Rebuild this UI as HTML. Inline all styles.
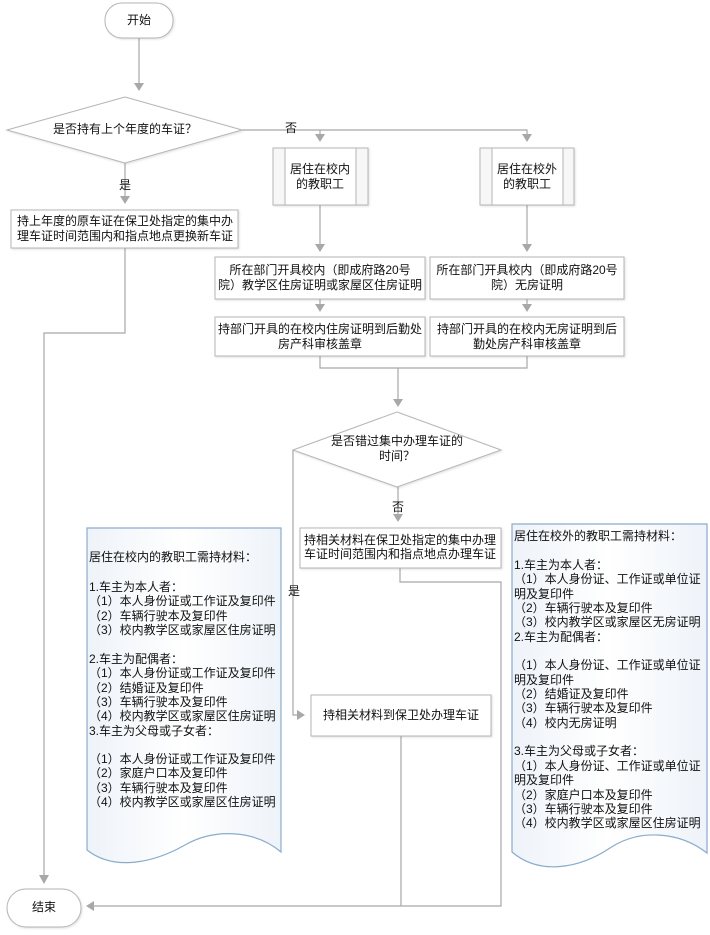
<!DOCTYPE html>
<html><head><meta charset="utf-8"><style>
body{margin:0;background:#fff}
svg{display:block}
text{font-family:"Liberation Sans","Noto Sans CJK SC",sans-serif;font-size:12px;fill:#111}
.b{fill:#fff;stroke:#b5b5b5;stroke-width:1}
.l{fill:none;stroke:#a8a8a8;stroke-width:1.2}
.a{fill:#a8a8a8}
.d{fill:url(#g);stroke:#8aaccc;stroke-width:1.2}
</style></head><body>
<svg width="710" height="935" viewBox="0 0 710 935" xmlns="http://www.w3.org/2000/svg">
<defs>
<linearGradient id="g" x1="0" y1="0" x2="1" y2="0"><stop offset="0" stop-color="#eef3f9"/><stop offset="0.5" stop-color="#ffffff"/><stop offset="1" stop-color="#eef3f9"/></linearGradient>
<filter id="s" x="-5%" y="-5%" width="110%" height="120%"><feDropShadow dx="1" dy="1" stdDeviation="1" flood-color="#000" flood-opacity="0.12"/></filter>
</defs>

<!-- connectors -->
<path class="l" d="M139 38 V84"/><polygon class="a" points="134,83 144,83 139,91"/>
<path class="l" d="M125 163 V197"/><polygon class="a" points="120,196 130,196 125,204"/>
<path class="l" d="M242 130 H527 V135 M320 130 V135"/>
<polygon class="a" points="315,134 325,134 320,142"/><polygon class="a" points="522,134 532,134 527,142"/>
<path class="l" d="M320 205 V245"/><polygon class="a" points="315,244 325,244 320,252"/>
<path class="l" d="M527 205 V245"/><polygon class="a" points="522,244 532,244 527,252"/>
<path class="l" d="M320 299 V305"/><polygon class="a" points="315,304 325,304 320,312"/>
<path class="l" d="M527 299 V305"/><polygon class="a" points="522,304 532,304 527,312"/>
<path class="l" d="M320 356 V368 H527 V356 M398 368 V400"/><polygon class="a" points="393,399 403,399 398,407"/>
<path class="l" d="M398 487 V515"/><polygon class="a" points="393,514 403,514 398,522"/>
<path class="l" d="M125 248 V333 H44 V876"/><polygon class="a" points="39,875 49,875 44,884"/>
<path class="l" d="M293 450 V715 H298"/><polygon class="a" points="297,710 297,720 305,715"/>
<path class="l" d="M400 568 V582 H501 V906 H94"/><polygon class="a" points="94,901 94,911 86,906"/>
<path class="l" d="M401 736 V906"/>

<!-- start/end -->
<rect class="b" x="105" y="3" width="68" height="35" rx="17" filter="url(#s)"/>
<text x="139" y="21" text-anchor="middle" dominant-baseline="middle">开始</text>
<rect class="b" x="7" y="889" width="74" height="38" rx="19" filter="url(#s)"/>
<text x="44" y="908" text-anchor="middle" dominant-baseline="middle">结束</text>

<!-- diamond 1 -->
<polygon class="b" points="7,130 125,97 242,130 125,163" filter="url(#s)"/>
<text x="125" y="130" text-anchor="middle" dominant-baseline="middle">是否持有上个年度的车证？</text>
<text x="291" y="129" text-anchor="middle" dominant-baseline="middle">否</text>
<text x="125" y="186" text-anchor="middle" dominant-baseline="middle">是</text>

<!-- box1 -->
<rect class="b" x="11" y="210" width="227" height="38" filter="url(#s)"/>
<text x="125" y="222" text-anchor="middle" dominant-baseline="middle">持上年度的原车证在保卫处指定的集中办</text>
<text x="125" y="237" text-anchor="middle" dominant-baseline="middle">理车证时间范围内和指点地点更换新车证</text>

<!-- subprocess boxes -->
<rect class="b" x="273" y="148" width="95" height="57" filter="url(#s)" style="fill:#f7f7f7"/>
<rect x="285" y="148" width="71" height="57" fill="#fff" stroke="#b5b5b5"/>
<text x="320" y="170" text-anchor="middle" dominant-baseline="middle">居住在校内</text>
<text x="320" y="185" text-anchor="middle" dominant-baseline="middle">的教职工</text>
<rect class="b" x="480" y="148" width="94" height="57" filter="url(#s)" style="fill:#f7f7f7"/>
<rect x="492" y="148" width="71" height="57" fill="#fff" stroke="#b5b5b5"/>
<text x="527" y="170" text-anchor="middle" dominant-baseline="middle">居住在校外</text>
<text x="527" y="185" text-anchor="middle" dominant-baseline="middle">的教职工</text>

<!-- boxes A-D -->
<rect class="b" x="215" y="257" width="210" height="42" filter="url(#s)"/>
<text x="320" y="271" text-anchor="middle" dominant-baseline="middle">所在部门开具校内（即成府路20号</text>
<text x="320" y="286" text-anchor="middle" dominant-baseline="middle">院）教学区住房证明或家屋区住房证明</text>
<rect class="b" x="430" y="257" width="194" height="42" filter="url(#s)"/>
<text x="527" y="271" text-anchor="middle" dominant-baseline="middle">所在部门开具校内（即成府路20号</text>
<text x="527" y="286" text-anchor="middle" dominant-baseline="middle">院）无房证明</text>
<rect class="b" x="215" y="317" width="210" height="39" filter="url(#s)"/>
<text x="320" y="330" text-anchor="middle" dominant-baseline="middle">持部门开具的在校内住房证明到后勤处</text>
<text x="320" y="345" text-anchor="middle" dominant-baseline="middle">房产科审核盖章</text>
<rect class="b" x="430" y="317" width="194" height="39" filter="url(#s)"/>
<text x="527" y="330" text-anchor="middle" dominant-baseline="middle">持部门开具的在校内无房证明到后</text>
<text x="527" y="345" text-anchor="middle" dominant-baseline="middle">勤处房产科审核盖章</text>

<!-- diamond 2 -->
<polygon class="b" points="293,450 397,412 501,450 397,487" filter="url(#s)"/>
<text x="397" y="442" text-anchor="middle" dominant-baseline="middle">是否错过集中办理车证的</text>
<text x="397" y="457" text-anchor="middle" dominant-baseline="middle">时间？</text>
<text x="398" y="508" text-anchor="middle" dominant-baseline="middle">否</text>
<text x="294" y="592" text-anchor="middle" dominant-baseline="middle">是</text>

<!-- box E, F -->
<rect class="b" x="300" y="528" width="201" height="40" filter="url(#s)"/>
<text x="400" y="541" text-anchor="middle" dominant-baseline="middle">持相关材料在保卫处指定的集中办理</text>
<text x="400" y="555" text-anchor="middle" dominant-baseline="middle">车证时间范围内和指点地点办理车证</text>
<rect class="b" x="311" y="695" width="180" height="41" filter="url(#s)"/>
<text x="401" y="716" text-anchor="middle" dominant-baseline="middle">持相关材料到保卫处办理车证</text>

<!-- doc left -->
<path class="d" d="M87 528 H281 V852 C255 830 215 828 185 845 C155 862 115 872 87 850 Z"/>
<g>
<text x="89" y="561">居住在校内的教职工需持材料：</text>
<text x="89" y="591">1.车主为本人者：</text>
<text x="89" y="605">（1）本人身份证或工作证及复印件</text>
<text x="89" y="620">（2）车辆行驶本及复印件</text>
<text x="89" y="634">（3）校内教学区或家屋区住房证明</text>
<text x="89" y="663">2.车主为配偶者：</text>
<text x="89" y="677">（1）本人身份证或工作证及复印件</text>
<text x="89" y="692">（2）结婚证及复印件</text>
<text x="89" y="706">（3）车辆行驶本及复印件</text>
<text x="89" y="720">（4）校内教学区或家屋区住房证明</text>
<text x="89" y="735">3.车主为父母或子女者：</text>
<text x="89" y="763">（1）本人身份证或工作证及复印件</text>
<text x="89" y="777">（2）家庭户口本及复印件</text>
<text x="89" y="792">（3）车辆行驶本及复印件</text>
<text x="89" y="806">（4）校内教学区或家屋区住房证明</text>
</g>

<!-- doc right -->
<path class="d" d="M512 524 H707 V853 C680 832 640 828 610 848 C580 868 540 876 512 852 Z"/>
<g>
<text x="514" y="540">居住在校外的教职工需持材料：</text>
<text x="514" y="569">1.车主为本人者：</text>
<text x="514" y="583">（1）本人身份证、工作证或单位证</text>
<text x="514" y="598">明及复印件</text>
<text x="514" y="612">（2）车辆行驶本及复印件</text>
<text x="514" y="626">（3）校内教学区或家屋区无房证明</text>
<text x="514" y="641">2.车主为配偶者：</text>
<text x="514" y="669">（1）本人身份证、工作证或单位证</text>
<text x="514" y="684">明及复印件</text>
<text x="514" y="698">（2）结婚证及复印件</text>
<text x="514" y="712">（3）车辆行驶本及复印件</text>
<text x="514" y="727">（4）校内无房证明</text>
<text x="514" y="755">3.车主为父母或子女者：</text>
<text x="514" y="770">（1）本人身份证、工作证或单位证</text>
<text x="514" y="784">明及复印件</text>
<text x="514" y="799">（2）家庭户口本及复印件</text>
<text x="514" y="813">（3）车辆行驶本及复印件</text>
<text x="514" y="827">（4）校内教学区或家屋区住房证明</text>
</g>
</svg>
</body></html>
